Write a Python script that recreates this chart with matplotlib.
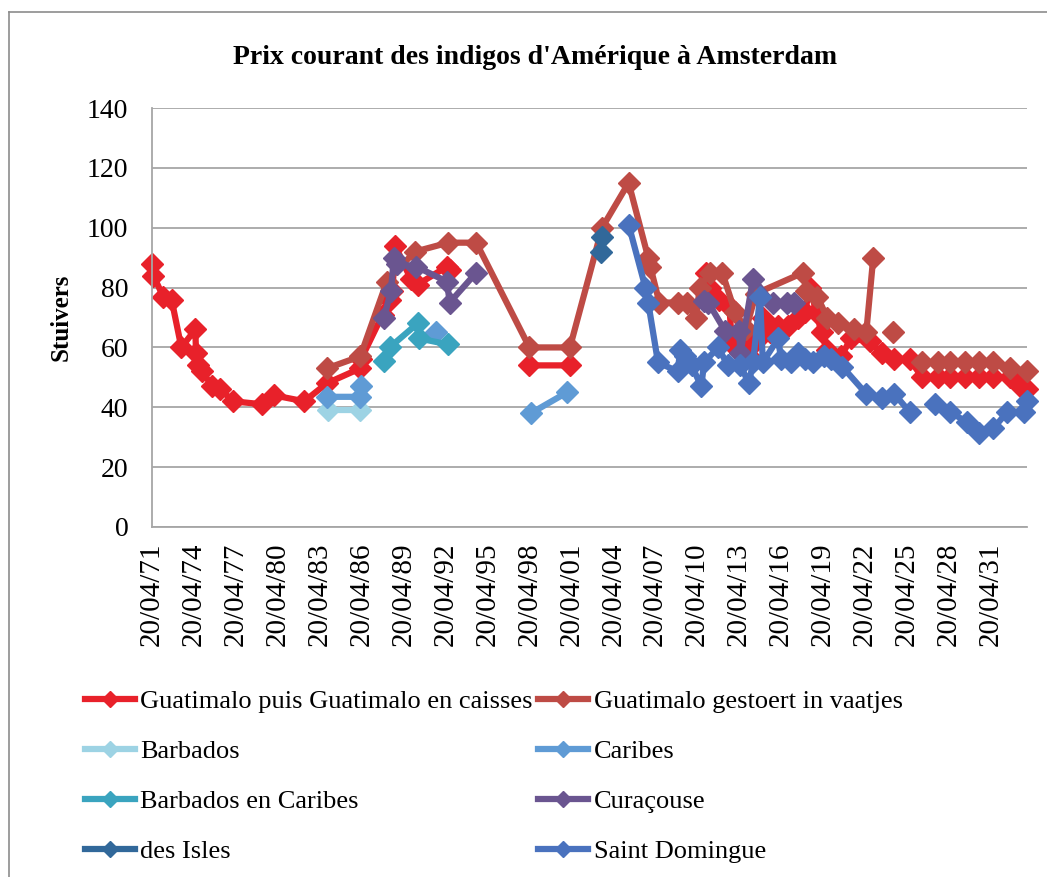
import matplotlib
matplotlib.use('Agg')
import matplotlib.pyplot as plt
from matplotlib.lines import Line2D

nan = float('nan')

# prices in stuivers, x = decimal year (first quote 20/04/1771)
guat_years = [1771.3, 1771.4, 1772.1, 1772.7, 1773.4, 1774.4, 1774.45, 1774.6, 1774.9, 1775.6,
              1776.2, 1777.1, 1779.2, 1780.0, 1782.2, 1783.8, 1786.2, 1786.25, 1787.8, 1788.3,
              1788.5, 1788.7, 1789.8, 1790.3, 1792.4, 1792.6, 1795.0, 1798.3, 1801.2, 1805.0,
              1810.9, 1811.2, 1811.9, 1812.6, 1812.8, 1813.5, 1814.0, 1814.5, 1815.0, 1815.5,
              1816.1, 1816.8, 1817.5, 1818.0, 1818.4, 1818.8, 1819.2, 1819.6, 1820.6, 1821.3,
              1822.7, 1823.5, 1824.4, 1825.5, 1826.4, 1827.5, 1828.4, 1829.5, 1830.5, 1831.5,
              1832.7, 1833.4, 1833.9]
guat_vals = [88, 84, 77, 76, 60, 66, 58, 54, 52, 47,
             46, 42, 41, 44, 42, 48, 53, 56, 71, 76,
             79, 94, 83, 81, 87, 86, nan, 54, 54, nan,
             85, 80, 76, 74, 61, 60, 57, 62, 70, 65,
             67, 67, 70, 72, 80, 72, 65, 59, 57, 63,
             62, 58, 56, 56, 50, 50, 50, 50, 50, 50,
             50, 47, 46]

vaatjes_years = [1783.8, 1786.2, 1788.1, 1790.1, 1792.5, 1794.5, 1798.3, 1801.2, 1803.5, 1805.4,
                 1806.8, 1806.95, 1807.6, 1808.9, 1809.6, 1810.2, 1810.5, 1811.2, 1812.1, 1813.0,
                 1813.8, 1814.5, 1817.9, 1818.1, 1818.9, 1819.6, 1820.4, 1821.5, 1822.4, 1822.9,
                 1823.6, 1824.3, 1825.3, 1826.4, 1827.5, 1828.4, 1829.5, 1830.5, 1831.5, 1832.7,
                 1833.9]
vaatjes_vals = [53, 57, 82, 92, 95, 95, 60, 60, 100, 115,
                90, 87, 75, 75, 75, 70, 80, 85, 85, 72,
                66, 78, 85, 79, 77, 70, 68, 66, 65, 90,
                nan, 65, nan, 55, 55, 55, 55, 55, 55, 53,
                52]

barbados_years = [1783.9, 1786.2]
barbados_vals = [39, 39]

caribes_years = [1783.8, 1786.2, 1786.25, 1789.0, 1791.6, 1795.0, 1798.4, 1801.0]
caribes_vals = [43.5, 43.5, 47, nan, 65, nan, 38, 45]

barb_car_years = [1787.9, 1788.3, 1790.3, 1790.4, 1792.5]
barb_car_vals = [55.5, 60, 68, 63, 61]

curacao_years = [1787.9, 1788.4, 1788.6, 1788.8, 1790.2, 1792.4, 1792.6, 1794.5, 1800.0,
                 1810.8, 1811.1, 1812.3, 1813.3, 1813.4, 1814.3, 1815.7, 1816.7, 1817.2]
curacao_vals = [70, 79, 90, 88, 87, 82, 75, 85, nan,
                75.5, 75, 65.5, 65.5, 58, 83, 75, 75, 75]

isles_years = [1803.4, 1803.5]
isles_vals = [92, 97]

domingue_years = [1805.4, 1806.6, 1806.8, 1807.5, 1808.9, 1809.1, 1809.4, 1809.9, 1810.6, 1810.8,
                  1811.8, 1812.5, 1813.4, 1814.0, 1814.3, 1814.8, 1815.0, 1816.1, 1816.3, 1817.0,
                  1817.5, 1818.0, 1818.6, 1819.4, 1819.9, 1820.7, 1822.4, 1823.5, 1824.4, 1825.5,
                  1826.4, 1827.3, 1828.4, 1829.6, 1830.5, 1831.5, 1832.5, 1833.7, 1833.9]
domingue_vals = [101, 80, 75, 55, 52, 59, 57, 54, 47, 55,
                 60, 54, 54, 48, 55, 77, 55, 63, 56, 55,
                 58, 56, 55, 57, 56, 53.5, 44.5, 43, 44.5, 38.5,
                 nan, 41, 38.5, 35, 31.5, 33, 38.5, 38.5, 42]

series = [
    ('Guatimalo puis Guatimalo en caisses', guat_years, guat_vals, '#E8212A'),
    ('Guatimalo gestoert in vaatjes', vaatjes_years, vaatjes_vals, '#BE4B45'),
    ('Barbados', barbados_years, barbados_vals, '#9DD3E4'),
    ('Caribes', caribes_years, caribes_vals, '#5F9BD5'),
    ('Barbados en Caribes', barb_car_years, barb_car_vals, '#3AA4BF'),
    ('Curaçouse', curacao_years, curacao_vals, '#6A5590'),
    ('des Isles', isles_years, isles_vals, '#31689A'),
    ('Saint Domingue', domingue_years, domingue_vals, '#4A72BE'),
]

plt.rcParams['font.family'] = ['Liberation Serif', 'DejaVu Serif']

W, H = 1047, 877
fig = plt.figure(figsize=(W / 100, H / 100), dpi=100)
ax = fig.add_axes([152 / W, 1 - 527 / H, 875 / W, 419 / H])

handles = []
for name, xs, ys, col in series:
    ln, = ax.plot(xs, ys, color=col, lw=4.5, marker='D', ms=11, mec=col, mew=1,
                  solid_joinstyle='round', clip_on=False, label=name)
    handles.append(ln)

ax.set_xlim(1771.3, 1833.9)
ax.set_ylim(0, 140)
ax.set_yticks(range(0, 141, 20))
xt = [1771.3 + 3 * k for k in range(21)]
ax.set_xticks(xt)
ax.set_xticklabels(['20/04/%02d' % (int(round(t - 0.3)) % 100) for t in xt], rotation=90)
ax.tick_params(axis='both', length=0, labelsize=20)
ax.tick_params(axis='x', labelsize=21, pad=11)
ax.tick_params(axis='y', pad=17)

ax.grid(axis='y', color='#A6A6A6', lw=1.3)
ax.set_axisbelow(True)
for s in ['top', 'right']:
    ax.spines[s].set_visible(False)
for s in ['left', 'bottom']:
    ax.spines[s].set_color('#A6A6A6')
    ax.spines[s].set_linewidth(1.3)

ax.set_ylabel('Stuivers', fontsize=18, fontweight='bold')
ax.yaxis.set_label_coords((73 - 152) / 875, 0.5)

fig.text(535 / W, 1 - 57 / H, "Prix courant des indigos d'Amérique à Amsterdam",
         ha='center', va='center', fontsize=20, fontweight='bold')

# legend is filled column by column, so reorder to get Excel's row order
order = [0, 2, 4, 6, 1, 3, 5, 7]
fig.legend([handles[i] for i in order], [series[i][0] for i in order],
           loc='upper left', bbox_to_anchor=(85 / W, 1 - 690 / H), ncol=2, frameon=False,
           fontsize=19, handlelength=1.9, handletextpad=0.2, columnspacing=0.2,
           labelspacing=1.0, borderpad=0, borderaxespad=0, markerscale=0.75)

# chart border (only left and top edges fall inside the picture)
fig.add_artist(Line2D([9 / W, 9 / W], [0, 1 - 12 / H], transform=fig.transFigure,
                      color='#8C8C8C', lw=1.2))
fig.add_artist(Line2D([9 / W, 1], [1 - 12 / H, 1 - 12 / H], transform=fig.transFigure,
                      color='#8C8C8C', lw=1.2))

fig.savefig('out.png', dpi=100)
